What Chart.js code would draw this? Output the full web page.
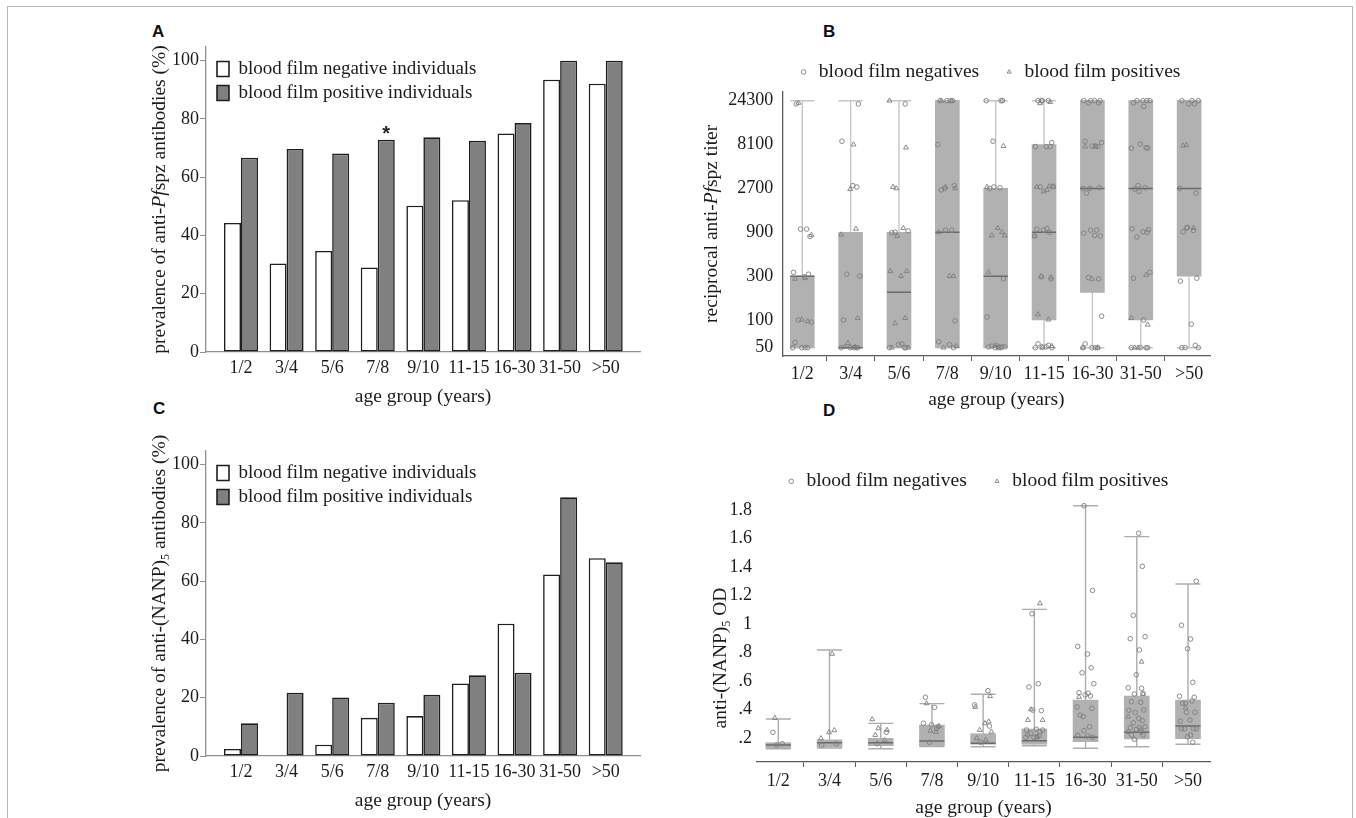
<!DOCTYPE html>
<html>
<head>
<meta charset="utf-8">
<script src="https://cdn.jsdelivr.net/npm/chart.js@4.4.1/dist/chart.umd.min.js"></script>
<style>
  html, body { margin: 0; padding: 0; background: #fff; overflow: hidden; }
  body { width: 1356px; height: 818px; position: relative; }
  .frame { position: absolute; left: 7px; top: 6px; width: 1344px; height: 830px; border: 1px solid #b5b5b5; }
  .tag { position: absolute; font: bold 17px "Liberation Sans", Arial, sans-serif; line-height: 1; color: #111; }
  canvas { position: absolute; }
</style>
</head>
<body>
<div class="frame"></div>
<div class="tag" style="left:152px;top:23px">A</div>
<div class="tag" style="left:823px;top:23px">B</div>
<div class="tag" style="left:153px;top:400px">C</div>
<div class="tag" style="left:823px;top:402px">D</div>

<canvas id="chartA" width="540" height="389" style="left:140px;top:20px"></canvas>
<canvas id="chartB" width="540" height="392" style="left:690px;top:20px"></canvas>
<canvas id="chartC" width="540" height="389" style="left:140px;top:424px"></canvas>
<canvas id="chartD" width="540" height="400" style="left:690px;top:420px"></canvas>

<script>
const ageGroups = ["1/2", "3/4", "5/6", "7/8", "9/10", "11-15", "16-30", "31-50", ">50"];

// A - anti-Pfspz prevalence (%)
const spzNegPrev = [44.3, 30.4, 34.7, 29.0, 50.2, 52.1, 75.0, 93.5, 92.1];
const spzPosPrev = [66.7, 69.7, 68.1, 72.9, 73.7, 72.5, 78.6, 100, 100];
// C - anti-(NANP)5 prevalence (%)
const nanpNegPrev = [2.4, 0, 3.9, 13.1, 13.7, 24.9, 45.4, 62.3, 67.9];
const nanpPosPrev = [11.2, 21.7, 20.1, 18.3, 21.0, 27.7, 28.6, 88.8, 66.5];
const prevTicks = [0, 20, 40, 60, 80, 100];

// B - reciprocal anti-Pfspz titer
const titerTicks = [50, 100, 300, 900, 2700, 8100, 24300];
const titerQ1 = [50, 50, 50, 50, 50, 100, 200, 100, 300];
const titerMed = [300, 50, 200, 900, 300, 900, 2700, 2700, 2700];
const titerQ3 = [300, 900, 900, 24300, 2700, 8100, 24300, 24300, 24300];
const titerLo = [50, 50, 50, 50, 50, 50, 50, 50, 50];
const titerHi = [24300, 24300, 24300, 24300, 24300, 24300, 24300, 24300, 24300];
const titerNeg = [
  [22400, 975, 975, 810, 330, 295, 315, 100, 95, 57, 50, 50, 50, 50],
  [22400, 8800, 2900, 2800, 315, 300, 100, 50, 50, 50, 50, 50],
  [22400, 900, 930, 890, 55, 54, 50, 50, 50],
  [24300, 24300, 24300, 24300, 8100, 2900, 2700, 2600, 950, 950, 98, 58, 54, 50],
  [24300, 24300, 24300, 8800, 2700, 2750, 2800, 280, 108, 52, 51, 52, 51, 51, 50, 50, 50],
  [24300, 24300, 24300, 24300, 8500, 7700, 7700, 7700, 2800, 2850, 970, 990, 950, 900, 820, 280, 295, 55, 53, 51, 50, 50, 51],
  [24300, 24300, 24300, 24300, 23000, 23000, 8500, 8800, 7800, 7800, 7700, 2700, 2750, 2700, 2400, 950, 950, 820, 880, 830, 280, 290, 110, 55, 50, 50, 50, 50],
  [24300, 24300, 24300, 24300, 23000, 21000, 8200, 7500, 7400, 7400, 2900, 2650, 2750, 2500, 960, 980, 910, 900, 800, 330, 285, 100, 50, 50, 50, 50],
  [24300, 24300, 24300, 22500, 22500, 2700, 2400, 1000, 910, 940, 1020, 285, 265, 90, 53, 50, 50, 50],
];
const titerPos = [
  [23000, 840, 280, 285, 101, 97],
  [8100, 2650, 980, 850, 105, 56, 51, 51],
  [24300, 7500, 2700, 2800, 1000, 820, 340, 340, 300, 105, 92, 50, 50],
  [24300, 24300, 2800, 2700, 900, 300, 300, 50, 52],
  [7800, 2800, 1000, 900, 830, 830, 330, 50, 53],
  [23500, 22800, 2800, 2800, 2600, 2500, 2850, 820, 290, 300, 115, 101, 50, 52],
  [7700, 7700, 280, 50, 50],
  [310, 105, 89, 50, 50],
  [8000, 7900, 1000],
];

// D - anti-(NANP)5 OD
const odTicks = [0.2, 0.4, 0.6, 0.8, 1, 1.2, 1.4, 1.6, 1.8];
const odQ1 = [0.132, 0.135, 0.146, 0.144, 0.156, 0.156, 0.174, 0.193, 0.195];
const odMed = [0.151, 0.167, 0.167, 0.179, 0.163, 0.181, 0.205, 0.24, 0.284];
const odQ3 = [0.167, 0.187, 0.198, 0.291, 0.23, 0.263, 0.467, 0.495, 0.467];
const odLo = [0.125, 0.13, 0.125, 0.14, 0.139, 0.146, 0.128, 0.139, 0.156];
const odHi = [0.333, 0.818, 0.303, 0.441, 0.507, 1.103, 1.83, 1.613, 1.281];
const odNeg = [
  [0.24, 0.16, 0.15],
  [0.16, 0.15],
  [0.24, 0.16],
  [0.486, 0.415, 0.293, 0.268, 0.303, 0.279, 0.17],
  [0.532, 0.432, 0.284, 0.17],
  [1.072, 0.558, 0.581, 0.396, 0.392, 0.256, 0.261, 0.244, 0.233, 0.256, 0.221, 0.209, 0.205, 0.216, 0.205],
  [1.83, 1.236, 0.843, 0.789, 0.693, 0.658, 0.581, 0.518, 0.514, 0.502, 0.495, 0.418, 0.408, 0.35, 0.361, 0.279, 0.251, 0.205, 0.219, 0.214],
  [1.637, 1.405, 1.061, 0.911, 0.897, 0.818, 0.644, 0.549, 0.553, 0.514, 0.509, 0.455, 0.451, 0.378, 0.397, 0.395, 0.338, 0.322, 0.307, 0.279, 0.272, 0.275, 0.261, 0.242, 0.244, 0.221, 0.191, 0.221, 0.256],
  [1.3, 0.991, 0.895, 0.827, 0.591, 0.493, 0.486, 0.444, 0.444, 0.46, 0.38, 0.38, 0.319, 0.326, 0.265, 0.265, 0.265, 0.265, 0.221, 0.209, 0.17],
];
const odPos = [
  [0.34],
  [0.79, 0.24, 0.254, 0.198],
  [0.331, 0.256, 0.268, 0.221, 0.184],
  [0.443, 0.242, 0.251, 0.284],
  [0.493, 0.418, 0.303, 0.315, 0.256, 0.244, 0.198, 0.186],
  [1.145, 0.401, 0.326, 0.326, 0.205],
  [0.488],
  [0.735, 0.35, 0.509],
  [0.413],
];

// horizontal spread of the dots inside a box, as a share of the box half width
const jitter = [-0.62, 0.45, -0.18, 0.8, -0.9, 0.22, 0.64, -0.4, 0.95, -0.75, 0.3, -0.05, 0.55, -0.98, 0.72, -0.28];

Chart.defaults.font.family = '"Liberation Serif", "Times New Roman", serif';
Chart.defaults.color = "#1b1b1b";
Chart.defaults.animation = false;
Chart.defaults.plugins.tooltip.enabled = false;

// rotated y title, with italic / subscript pieces
const yTitle = {
  id: "yTitle",
  afterDraw(chart, args, o) {
    if (!o.parts) return;
    const ctx = chart.ctx;
    const s = chart.scales.y;
    const size = o.size || 19.5;
    const fontOf = (p) => (p.italic ? "italic " : "") + (p.sub ? size * 0.62 : size) + 'px "Liberation Serif"';
    ctx.save();
    ctx.translate(o.x, o.y != null ? o.y : (s.top + s.bottom) / 2);
    ctx.rotate(-Math.PI / 2);
    ctx.fillStyle = "#1b1b1b";
    ctx.textBaseline = "middle";
    let total = 0;
    o.parts.forEach((p) => {
      ctx.font = fontOf(p);
      total += ctx.measureText(p.t).width;
    });
    let cx = -total / 2;
    o.parts.forEach((p) => {
      ctx.font = fontOf(p);
      ctx.fillText(p.t, cx, p.sub ? size * 0.32 : 0);
      cx += ctx.measureText(p.t).width;
    });
    ctx.restore();
  },
};

// significance mark over one bar
const star = {
  id: "star",
  afterDatasetsDraw(chart, args, o) {
    if (o.index == null) return;
    const el = chart.getDatasetMeta(o.dataset).data[o.index];
    const ctx = chart.ctx;
    ctx.save();
    ctx.font = 'bold 20px "Liberation Sans"';
    ctx.textAlign = "center";
    ctx.textBaseline = "middle";
    ctx.fillStyle = "#222";
    ctx.fillText("*", el.x, el.y + o.dy);
    ctx.restore();
  },
};

// move the legend: inside -> from the plot corner, otherwise a plain shift
const legendNudge = {
  id: "legendNudge",
  afterLayout(chart, args, o) {
    if (o.dx == null) return;
    const lg = chart.legend;
    if (o.inside) {
      const a = chart.chartArea;
      lg.left = a.left + o.dx;
      lg.top = a.top + o.dy;
    } else {
      lg.left += o.dx;
      lg.top += o.dy;
    }
    lg.right = lg.left + lg.width;
    lg.bottom = lg.top + lg.height;
  },
};

Chart.register(yTitle, star, legendNudge);

const groupTicks = (s) => {
  s.ticks = ageGroups.map((_, i) => ({ value: i + 1 }));
};

function prevalenceChart(id, neg, pos, titleParts, starOpts) {
  const axisGrey = "#8e8e8e";
  return new Chart(document.getElementById(id), {
    type: "bar",
    data: {
      datasets: [
        {
          label: "blood film negative individuals",
          data: neg.map((v, i) => ({ x: i + 1, y: v })),
          backgroundColor: "#ffffff",
          borderColor: "#1e1e1e",
          borderWidth: 1.6,
          borderSkipped: false,
          categoryPercentage: 0.746,
          barPercentage: 1,
        },
        {
          label: "blood film positive individuals",
          data: pos.map((v, i) => ({ x: i + 1, y: v })),
          backgroundColor: "#808080",
          borderColor: "#1e1e1e",
          borderWidth: 1.6,
          borderSkipped: false,
          categoryPercentage: 0.746,
          barPercentage: 1,
        },
      ],
    },
    options: {
      responsive: false,
      layout: { padding: { left: 0, right: 40, top: 27, bottom: 0 } },
      scales: {
        x: {
          type: "linear",
          offset: false,
          min: 0.2325,
          max: 9.752,
          afterBuildTicks: groupTicks,
          ticks: { callback: (v) => ageGroups[v - 1], font: { size: 18 }, padding: 5, autoSkip: false, maxRotation: 0, minRotation: 0 },
          grid: { display: false, drawTicks: false },
          border: { color: axisGrey, width: 1.3 },
          title: { display: true, text: "age group (years)", font: { size: 19.5 }, padding: 0 },
          afterFit: (s) => { s.height = 57; },
        },
        y: {
          min: 0,
          max: 104.7,
          afterBuildTicks: (s) => { s.ticks = prevTicks.map((v) => ({ value: v })); },
          ticks: { font: { size: 18 }, padding: 1 },
          grid: { display: true, drawOnChartArea: false, tickLength: 6, color: axisGrey },
          border: { color: axisGrey, width: 1.3 },
          afterFit: (s) => { s.width = 66; },
        },
      },
      plugins: {
        legend: {
          position: "chartArea",
          align: "start",
          labels: { boxWidth: 12, boxHeight: 15, padding: 5, font: { size: 19 }, color: "#1b1b1b" },
        },
        legendNudge: { inside: true, dx: 6, dy: 7.5 },
        yTitle: { x: 20, parts: titleParts },
        star: starOpts || {},
      },
    },
  });
}

function boxChart(id, c) {
  const hw = c.capHalf;
  const medSegs = [];
  const whisk = [];
  const caps = [];
  c.q1.forEach((q, g) => {
    const x = g + 1;
    medSegs.push({ x: x - hw, y: c.med[g] }, { x: x + hw, y: c.med[g] }, { x: x, y: null });
    if (c.lo[g] < q) whisk.push({ x: x, y: c.lo[g] }, { x: x, y: q }, { x: x, y: null });
    if (c.hi[g] > c.q3[g]) whisk.push({ x: x, y: c.q3[g] }, { x: x, y: c.hi[g] }, { x: x, y: null });
    caps.push({ x: x - hw, y: c.hi[g] }, { x: x + hw, y: c.hi[g] }, { x: x, y: null });
    caps.push({ x: x - hw, y: c.lo[g] }, { x: x + hw, y: c.lo[g] }, { x: x, y: null });
  });
  const dots = (groups, shift) =>
    groups.flatMap((vals, g) =>
      vals.map((v, k) => ({ x: g + 1 + c.spread * jitter[(k + shift + g * 3) % jitter.length], y: v }))
    );
  const dotGrey = "#7f7f7f";

  return new Chart(document.getElementById(id), {
    type: "bar",
    data: {
      datasets: [
        {
          type: "scatter",
          label: "blood film negatives",
          data: dots(c.neg, 0),
          pointStyle: "circle",
          pointRadius: 2.3,
          borderColor: dotGrey,
          pointBorderColor: dotGrey,
          backgroundColor: "rgba(0,0,0,0)",
          pointBackgroundColor: "rgba(0,0,0,0)",
          borderWidth: 0.9,
          pointBorderWidth: 0.9,
          order: 0,
        },
        {
          type: "scatter",
          label: "blood film positives",
          data: dots(c.pos, 7),
          pointStyle: "triangle",
          pointRadius: 2.8,
          borderColor: dotGrey,
          pointBorderColor: dotGrey,
          backgroundColor: "rgba(0,0,0,0)",
          pointBackgroundColor: "rgba(0,0,0,0)",
          borderWidth: 0.9,
          pointBorderWidth: 0.9,
          order: 0,
        },
        { type: "line", label: "median", data: medSegs, borderColor: "#6a6a6a", borderWidth: 1.5, pointRadius: 0, spanGaps: false, order: 1 },
        {
          type: "bar",
          label: "box",
          data: c.q1.map((q, g) => ({ x: g + 1, y: [q, c.q3[g]] })),
          backgroundColor: "#b1b1b1",
          borderWidth: 0,
          barThickness: c.boxWidth,
          order: 2,
        },
        { type: "line", label: "whisker", data: whisk, borderColor: c.whiskerColor, borderWidth: 1.4, pointRadius: 0, spanGaps: false, order: 3 },
        { type: "line", label: "cap", data: caps, borderColor: c.whiskerColor, borderWidth: 1.4, pointRadius: 0, spanGaps: false, order: 3 },
      ],
    },
    options: {
      responsive: false,
      layout: { padding: c.padding },
      scales: {
        x: {
          type: "linear",
          offset: false,
          min: c.xMin,
          max: c.xMax,
          afterBuildTicks: groupTicks,
          ticks: { callback: (v) => ageGroups[v - 1], font: { size: 18 }, padding: c.xTickPad, autoSkip: false, maxRotation: 0, minRotation: 0 },
          grid: { display: true, drawOnChartArea: false, tickLength: 5, color: "#5c5c5c" },
          border: { color: "#5c5c5c", width: 1.3 },
          title: { display: true, text: "age group (years)", font: { size: 19.5 }, padding: 0 },
          afterFit: (s) => { s.height = c.xHeight; },
        },
        y: Object.assign(
          {
            min: c.yMin,
            max: c.yMax,
            afterBuildTicks: (s) => { s.ticks = c.yTicks.map((v) => ({ value: v })); },
            ticks: { callback: c.yLabel, font: { size: 18 }, padding: c.yTickPad, autoSkip: false },
            grid: { display: false, drawTicks: false },
            border: { display: c.yBorder, color: "#5c5c5c", width: 1.3 },
            afterFit: (s) => { s.width = c.yWidth; },
          },
          c.yType ? { type: c.yType } : {}
        ),
      },
      plugins: {
        legend: {
          position: "top",
          labels: {
            usePointStyle: true,
            boxWidth: 11,
            boxHeight: 3.25,
            padding: c.legendPad,
            font: { size: 19.5 },
            color: "#1b1b1b",
            filter: (item) => item.datasetIndex < 2,
          },
        },
        legendNudge: { dx: c.legendShift, dy: 0 },
        yTitle: c.title,
      },
    },
  });
}

prevalenceChart(
  "chartA",
  spzNegPrev,
  spzPosPrev,
  [{ t: "prevalence of anti-" }, { t: "Pf", italic: true }, { t: "spz antibodies (%)" }],
  { dataset: 1, index: 3, dy: -5 }
);

prevalenceChart(
  "chartC",
  nanpNegPrev,
  nanpPosPrev,
  [{ t: "prevalence of anti-(NANP)" }, { t: "5", sub: true }, { t: " antibodies (%)" }],
  null
);

boxChart("chartB", {
  q1: titerQ1, med: titerMed, q3: titerQ3, lo: titerLo, hi: titerHi,
  neg: titerNeg, pos: titerPos,
  capHalf: 0.25, boxWidth: 24, spread: 0.2, whiskerColor: "#c6c6c6",
  padding: { left: 0, right: 20, top: 17.7, bottom: 0 },
  xMin: 0.595, xMax: 9.432, xTickPad: 2.3, xHeight: 56,
  yType: "logarithmic", yMin: 40.6, yMax: 30440, yTicks: titerTicks,
  yLabel: (v) => String(v), yTickPad: 9.4, yWidth: 92.7, yBorder: true,
  legendPad: 24.5, legendShift: 39.25,
  title: { x: 22, parts: [{ t: "reciprocal anti-" }, { t: "Pf", italic: true }, { t: "spz titer" }] },
});

boxChart("chartD", {
  q1: odQ1, med: odMed, q3: odQ3, lo: odLo, hi: odHi,
  neg: odNeg, pos: odPos,
  capHalf: 0.244, boxWidth: 25, spread: 0.17, whiskerColor: "#adadad",
  padding: { left: 0, right: 20, top: 26.75, bottom: 0 },
  xMin: 0.584, xMax: 9.43, xTickPad: 3, xHeight: 58,
  yMin: 0.0316, yMax: 1.863, yTicks: odTicks,
  yLabel: (v) => {
    const s = String(Math.round(v * 10) / 10);
    return s.startsWith("0.") ? s.slice(1) : s;
  },
  yTickPad: 5, yWidth: 67, yBorder: false,
  legendPad: 24.8, legendShift: 27,
  title: { x: 31, y: 238, parts: [{ t: "anti-(NANP)" }, { t: "5", sub: true }, { t: " OD" }] },
});
</script>
</body>
</html>
